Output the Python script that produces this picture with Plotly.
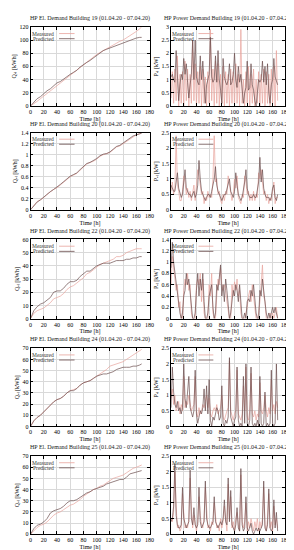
import plotly.graph_objects as go

# ---------------- data ----------------
t_cum = [0, 5, 10, 15, 20, 25, 30, 35, 40, 45, 50, 55, 60, 65, 70, 75, 80, 85, 90, 95,
         100, 105, 110, 115, 120, 125, 130, 135, 140, 145, 150, 155, 160, 165, 168]
t_pow = list(range(0, 169, 2))

buildings = ["19", "20", "22", "24", "25"]
series_names = ["Measured", "Predicted"]

# cumulative electrical demand [kWh]
q19_meas = [0, 3, 7, 11, 15, 19, 23, 27, 31, 35, 39, 42, 46, 51, 55, 59, 63, 67, 70, 74,
            78, 81, 84, 86, 89, 92, 95, 98, 100, 103, 106, 109, 113, 117, 120]
q19_pred = [0, 5, 11, 14, 19, 23, 26, 31, 35, 37, 41, 45, 48, 51, 54, 59, 63, 66, 69, 73,
            77, 80, 84, 86, 88, 90, 92, 94, 96, 98, 100, 102, 103, 104, 104]
q20_meas = [0, 0.08, 0.15, 0.18, 0.22, 0.28, 0.33, 0.37, 0.40, 0.45, 0.50, 0.55, 0.60, 0.63,
            0.66, 0.72, 0.78, 0.83, 0.86, 0.88, 0.92, 0.97, 1.00, 1.02, 1.04, 1.09, 1.14,
            1.16, 1.20, 1.25, 1.29, 1.33, 1.36, 1.38, 1.40]
q20_pred = [0, 0.07, 0.14, 0.18, 0.23, 0.29, 0.33, 0.37, 0.41, 0.46, 0.51, 0.56, 0.61, 0.64,
            0.67, 0.73, 0.79, 0.84, 0.86, 0.89, 0.93, 0.98, 1.01, 1.02, 1.05, 1.10, 1.15,
            1.17, 1.21, 1.26, 1.30, 1.34, 1.36, 1.38, 1.39]
q22_meas = [0, 4, 6, 7, 8, 10, 12, 15, 16, 17, 19, 22, 24, 25, 27, 29, 31, 34, 35, 37,
            39, 41, 42, 43, 44, 45, 47, 47, 48, 50, 51, 52, 53, 53, 53]
q22_pred = [0, 6, 9, 11, 12, 14, 16, 20, 21, 21, 23, 26, 28, 28, 29, 32, 34, 36, 36, 38,
            40, 41, 42, 42, 42, 43, 44, 44, 44, 45, 45, 46, 46, 47, 47]
q24_meas = [0, 5, 8, 10, 13, 16, 19, 22, 24, 25, 27, 30, 32, 33, 34, 37, 39, 40, 41, 43,
            45, 47, 49, 51, 54, 55, 56, 57, 58, 60, 62, 64, 66, 68, 69]
q24_pred = [0, 5, 8, 10, 13, 16, 19, 22, 24, 25, 27, 30, 32, 32, 34, 37, 39, 40, 41, 43,
            45, 46, 47, 47, 48, 49, 51, 52, 53, 53, 53, 54, 54, 55, 56]
q25_meas = [0, 3, 6, 8, 9, 11, 14, 17, 19, 20, 22, 24, 26, 27, 29, 31, 34, 36, 38, 40,
            41, 43, 44, 46, 48, 50, 51, 52, 53, 55, 57, 59, 60, 61, 62]
q25_pred = [0, 5, 8, 9, 11, 14, 19, 21, 22, 23, 25, 28, 30, 30, 31, 33, 35, 37, 38, 40,
            41, 42, 43, 45, 46, 47, 48, 49, 49, 51, 54, 55, 56, 57, 57]

# power demand [kW], every 2 h
p19_meas = [0.3, 1.3, 0.1, 1.4, 0.2, 1.9, 0.0, 1.2, 0.1, 1.3, 0.0, 1.7, 0.2, 1.4, 0.0, 1.2,
            0.1, 2.5, 0.2, 1.6, 0.0, 1.3, 0.1, 1.5, 0.0, 1.4, 0.1, 1.1, 0.0, 1.3, 0.1, 2.9,
            0.2, 1.4, 0.0, 1.7, 0.1, 1.6, 0.0, 1.2, 0.1, 1.5, 0.0, 1.3, 0.1, 1.2, 0.0, 1.4,
            0.1, 1.3, 0.0, 1.6, 0.1, 1.2, 0.0, 2.9, 0.1, 1.0, 0.0, 1.3, 0.1, 1.5, 0.0, 1.2,
            0.1, 1.4, 0.0, 1.0, 0.1, 1.3, 0.0, 1.2, 0.1, 1.4, 0.0, 1.3, 0.1, 1.2, 0.0, 1.4,
            0.1, 1.5, 0.0, 2.1, 0.2]
p19_pred = [1.1, 1.2, 1.0, 0.9, 2.1, 1.3, 0.2, 0.8, 1.2, 1.0, 1.8, 1.2, 1.6, 0.9, 0.3, 0.8,
            1.2, 2.5, 1.0, 2.5, 1.1, 0.9, 0.8, 1.9, 1.0, 1.7, 0.9, 0.1, 0.8, 1.0, 1.2, 2.6,
            1.1, 0.9, 1.0, 1.9, 0.9, 2.1, 1.0, 0.6, 0.1, 1.8, 1.1, 0.9, 0.8, 1.0, 1.6, 0.8,
            0.9, 1.2, 2.0, 1.0, 0.7, 1.5, 0.9, 1.2, 0.6, 0.1, 0.5, 0.7, 1.7, 0.6, 0.7, 1.6,
            0.8, 0.6, 0.2, 0.0, 0.5, 1.0, 0.9, 1.0, 1.7, 0.9, 1.5, 0.8, 1.6, 0.5, 0.1, 0.8,
            1.0, 1.8, 1.1, 0.9, 0.8]
p20_meas = [0.6, 0.9, 0.5, 0.7, 2.4, 0.8, 0.6, 0.3, 0.3, 0.6, 1.1, 0.9, 0.5, 0.7, 0.4, 0.6,
            0.3, 0.6, 0.8, 0.3, 0.7, 1.3, 1.1, 0.7, 0.5, 0.6, 0.2, 0.4, 0.3, 0.6, 0.4, 0.5,
            0.4, 1.0, 2.4, 0.9, 1.0, 0.5, 0.6, 0.3, 0.2, 0.5, 0.3, 0.6, 0.5, 1.1, 0.8, 0.6,
            0.3, 0.5, 1.0, 0.7, 1.1, 0.4, 0.3, 0.2, 0.5, 0.4, 1.1, 0.9, 0.5, 0.6, 0.3, 0.5,
            0.3, 0.6, 0.3, 0.5, 0.4, 1.2, 1.0, 1.3, 0.9, 0.5, 0.6, 0.3, 0.5, 0.2, 0.4, 0.3,
            0.6, 0.9, 0.2, 0.4, 0.4]
p20_pred = [0.8, 0.7, 0.6, 0.6, 0.9, 1.2, 0.7, 0.5, 0.4, 0.5, 0.9, 1.3, 0.7, 0.6, 0.5, 0.5,
            0.4, 0.5, 0.6, 0.4, 0.5, 0.8, 1.6, 1.0, 0.6, 0.5, 0.4, 0.3, 0.4, 0.5, 0.5, 0.4,
            0.6, 0.8, 1.0, 1.4, 0.8, 0.6, 0.5, 0.4, 0.3, 0.4, 0.5, 0.5, 0.7, 0.9, 1.0, 0.6,
            0.5, 0.4, 0.6, 1.2, 0.8, 0.5, 0.4, 0.3, 0.4, 0.6, 0.9, 1.3, 0.7, 0.5, 0.4, 0.4,
            0.4, 0.5, 0.4, 0.4, 0.6, 0.9, 1.7, 0.9, 1.3, 0.7, 0.5, 0.4, 0.4, 0.4, 0.3, 0.4,
            0.7, 0.8, 0.4, 0.3, 0.5]
p22_meas = [0.6, 1.1, 0.9, 0.7, 0.5, 0.6, 0.2, 0.3, 0.0, 0.0, 0.5, 0.7, 0.6, 0.8, 0.5, 0.6,
            0.1, 0.0, 0.0, 0.0, 0.6, 0.7, 0.6, 0.8, 0.3, 0.7, 0.1, 0.0, 0.0, 0.0, 0.6, 0.4,
            0.8, 0.1, 0.0, 0.0, 0.4, 0.7, 0.6, 0.9, 0.6, 0.5, 0.6, 0.5, 0.3, 0.1, 0.0, 0.0,
            0.6, 0.4, 0.65, 0.5, 0.7, 0.4, 0.5, 0.1, 0.0, 0.0, 0.0, 0.1, 0.2, 0.4, 0.5, 0.3,
            0.6, 0.4, 0.2, 0.0, 0.0, 0.1, 0.3, 0.6, 0.95, 0.4, 0.3, 0.0, 0.0, 0.0, 0.1, 0.0,
            0.1, 0.0, 0.1, 0.2, 0.0]
p22_pred = [0.9, 1.35, 1.0, 0.8, 0.6, 0.5, 0.3, 0.1, 0.0, 0.1, 0.4, 0.5, 0.8, 0.6, 0.7, 0.5,
            0.2, 0.0, 0.0, 0.1, 0.5, 0.8, 0.4, 0.7, 0.5, 0.8, 0.3, 0.0, 0.0, 0.1, 0.4, 0.5,
            0.6, 0.2, 0.0, 0.1, 0.6, 0.5, 0.7, 0.95, 0.4, 0.6, 0.3, 0.7, 0.5, 0.2, 0.0, 0.1,
            0.3, 0.5, 0.4, 0.6, 0.5, 0.3, 0.6, 0.2, 0.0, 0.0, 0.1, 0.0, 0.3, 0.35, 0.3, 0.5,
            0.4, 0.6, 0.3, 0.1, 0.0, 0.0, 0.5, 0.4, 0.7, 0.5, 0.2, 0.1, 0.0, 0.1, 0.0, 0.1,
            0.2, 0.1, 0.2, 0.1, 0.0]
p24_meas = [0.9, 1.2, 0.7, 1.0, 0.5, 0.6, 0.8, 0.4, 0.7, 0.5, 1.6, 0.6, 0.8, 0.7, 1.0, 0.8,
            0.5, 0.6, 0.7, 1.6, 0.5, 0.3, 0.6, 0.4, 0.5, 0.7, 0.6, 0.8, 1.0, 0.6, 0.9, 0.4,
            0.3, 0.5, 0.6, 0.5, 0.7, 0.4, 0.5, 0.6, 1.0, 0.3, 0.2, 0.4, 0.5, 0.6, 2.1, 0.5,
            0.3, 0.2, 0.4, 0.5, 1.8, 0.4, 0.3, 0.2, 0.4, 1.3, 0.5, 1.9, 0.3, 0.2, 0.5, 1.7,
            0.4, 0.3, 0.5, 0.2, 0.4, 0.3, 1.4, 0.5, 0.4, 0.6, 1.0, 0.5, 0.3, 0.6, 0.4, 1.5,
            0.5, 0.7, 0.4, 0.8, 0.6]
p24_pred = [0.6, 1.9, 1.1, 0.7, 0.6, 0.8, 0.5, 0.6, 0.4, 0.6, 2.0, 0.9, 0.6, 1.0, 1.6, 0.6,
            0.4, 0.3, 0.5, 1.8, 0.4, 0.1, 0.3, 0.5, 0.4, 0.6, 1.2, 0.5, 1.3, 0.4, 1.5, 0.2,
            0.0, 0.3, 0.2, 0.4, 0.6, 0.5, 0.2, 0.3, 1.3, 0.1, 0.0, 0.2, 0.1, 0.3, 2.2, 0.3,
            0.1, 0.0, 0.2, 0.3, 1.9, 0.2, 0.0, 0.1, 0.0, 1.6, 0.1, 2.0, 0.1, 0.0, 0.2, 1.9,
            0.1, 0.0, 0.1, 0.0, 0.2, 0.0, 1.6, 0.1, 0.0, 0.1, 1.1, 0.0, 0.1, 0.0, 0.1, 1.8,
            0.1, 0.0, 0.1, 2.0, 0.2]
p25_meas = [0.5, 0.4, 0.7, 2.0, 0.9, 0.2, 0.3, 0.1, 0.2, 1.3, 0.7, 0.2, 0.3, 0.2, 0.5, 1.8,
            0.8, 0.2, 0.6, 0.4, 0.1, 0.4, 1.2, 0.6, 0.3, 0.2, 0.5, 1.5, 0.7, 0.2, 0.3, 0.1,
            0.4, 0.3, 1.0, 0.6, 0.2, 0.3, 0.1, 0.5, 0.2, 0.4, 0.9, 0.5, 0.1, 1.6, 0.5, 1.2,
            0.2, 0.4, 0.1, 0.5, 0.7, 0.3, 0.1, 1.9, 0.4, 0.2, 0.4, 1.0, 0.1, 0.4, 0.2, 0.5,
            0.3, 0.1, 0.4, 0.2, 0.5, 0.1, 0.4, 0.2, 0.5, 1.5, 0.3, 0.1, 0.5, 1.3, 0.2, 0.4,
            0.1, 0.9, 0.3, 0.5, 0.2]
p25_pred = [0.4, 0.5, 0.9, 2.25, 0.6, 0.3, 0.2, 0.2, 0.3, 1.5, 0.5, 0.3, 0.2, 0.3, 0.4, 2.05,
            0.5, 0.3, 0.85, 0.3, 0.2, 0.3, 1.5, 0.4, 0.2, 0.3, 0.4, 1.7, 0.5, 0.3, 0.2, 0.2,
            0.3, 0.4, 1.2, 0.4, 0.3, 0.2, 0.3, 0.4, 0.3, 0.5, 1.1, 0.4, 0.3, 1.8, 0.4, 1.4,
            0.3, 0.2, 0.1, 0.3, 0.85, 0.2, 0.1, 2.1, 0.3, 0.1, 0.2, 1.2, 0.2, 0.1, 0.2, 0.35,
            0.1, 0.0, 0.1, 0.2, 0.1, 0.2, 0.1, 0.2, 0.3, 1.7, 0.2, 0.1, 0.3, 1.45, 0.2, 0.1,
            0.2, 1.1, 0.2, 0.7, 0.1]

q_meas = [q19_meas, q20_meas, q22_meas, q24_meas, q25_meas]
q_pred = [q19_pred, q20_pred, q22_pred, q24_pred, q25_pred]
p_meas = [p19_meas, p20_meas, p22_meas, p24_meas, p25_meas]
p_pred = [p19_pred, p20_pred, p22_pred, p24_pred, p25_pred]

q_range = [[0, 120, 20], [0, 1.4, 0.2], [0, 60, 10], [0, 70, 10], [0, 70, 10]]
p_range = [[0, 3, 0.5], [0, 2.5, 0.5], [0, 1.4, 0.2], [0, 2.5, 0.5], [0, 2.5, 0.5]]

period = "(01.04.20 - 07.04.20)"

# ---------------- layout geometry ----------------
W, H = 294, 550
col_px = [(21, 143), (165, 282)]
row_px = [(16, 96), (123, 201), (231, 311), (341, 420), (450, 529)]

C_MEAS = "#e8a39c"
C_PRED = "#6a4c4c"
COLORS = [C_MEAS, C_PRED]
FONT = "Liberation Serif, Times New Roman, serif"

fig = go.Figure()
layout = dict(
    width=W, height=H, margin=dict(l=0, r=0, t=0, b=0),
    paper_bgcolor="white", plot_bgcolor="white",
    font=dict(family=FONT, size=6, color="black"),
    showlegend=False,
    annotations=[], shapes=[],
)

k = 0
for r, b in enumerate(buildings):
    for c in range(2):
        k += 1
        xa = "xaxis" if k == 1 else f"xaxis{k}"
        ya = "yaxis" if k == 1 else f"yaxis{k}"
        xr = "x" if k == 1 else f"x{k}"
        yr = "y" if k == 1 else f"y{k}"
        x0, x1 = col_px[c]
        top, bot = row_px[r]
        xd = [x0 / W, x1 / W]
        yd = [1 - bot / H, 1 - top / H]
        if c == 0:
            tx, ys = t_cum, [q_meas[r], q_pred[r]]
            rng = q_range[r]
            ttl = f"HP El. Demand Building {b} {period}"
            ytitle = "Q\u2091\u2097 [kWh]"
        else:
            tx, ys = t_pow, [p_meas[r], p_pred[r]]
            rng = p_range[r]
            ttl = f"HP Power Demand Building {b} {period}"
            ytitle = "P\u2091\u2097 [kW]"
        for name, yv, col in zip(series_names, ys, COLORS):
            fig.add_trace(go.Scatter(x=tx, y=yv, mode="lines", name=name,
                                     line=dict(color=col, width=0.7),
                                     xaxis=xr, yaxis=yr))
        common = dict(showline=True, linecolor="black", linewidth=0.7, mirror="ticks",
                      ticks="inside", ticklen=3, tickwidth=0.6, tickcolor="black",
                      showgrid=True, gridcolor="#d9d9d9", gridwidth=0.5,
                      zeroline=False, tickfont=dict(size=6, family=FONT))
        layout[xa] = dict(domain=xd, range=[0, 180], dtick=20, tick0=0, anchor=yr,
                          title=dict(text="Time [h]", font=dict(size=6, family=FONT), standoff=2),
                          **common)
        layout[ya] = dict(domain=yd, range=[rng[0], rng[1]], dtick=rng[2], tick0=0, anchor=xr,
                          title=dict(text=ytitle, font=dict(size=6, family=FONT), standoff=2),
                          **common)
        layout["annotations"].append(dict(
            text=ttl, xref="paper", yref="paper", x=(xd[0] + xd[1]) / 2, y=yd[1] + 3 / H,
            xanchor="center", yanchor="bottom", showarrow=False,
            font=dict(size=6, family=FONT, color="#222222")))
        # key (gnuplot-style: label then line sample)
        for i, (name, col) in enumerate(zip(series_names, COLORS)):
            ky = 0.915 - i * 0.065
            layout["annotations"].append(dict(
                text=name, xref=f"{xr} domain", yref=f"{yr} domain", x=0.215, y=ky,
                xanchor="right", yanchor="middle", showarrow=False,
                font=dict(size=5.5, family=FONT, color="#333333")))
            layout["shapes"].append(dict(
                type="line", xref=f"{xr} domain", yref=f"{yr} domain",
                x0=0.24, x1=0.37, y0=ky, y1=ky, line=dict(color=col, width=0.8)))

fig.update_layout(**layout)
fig.write_html("out.html")
